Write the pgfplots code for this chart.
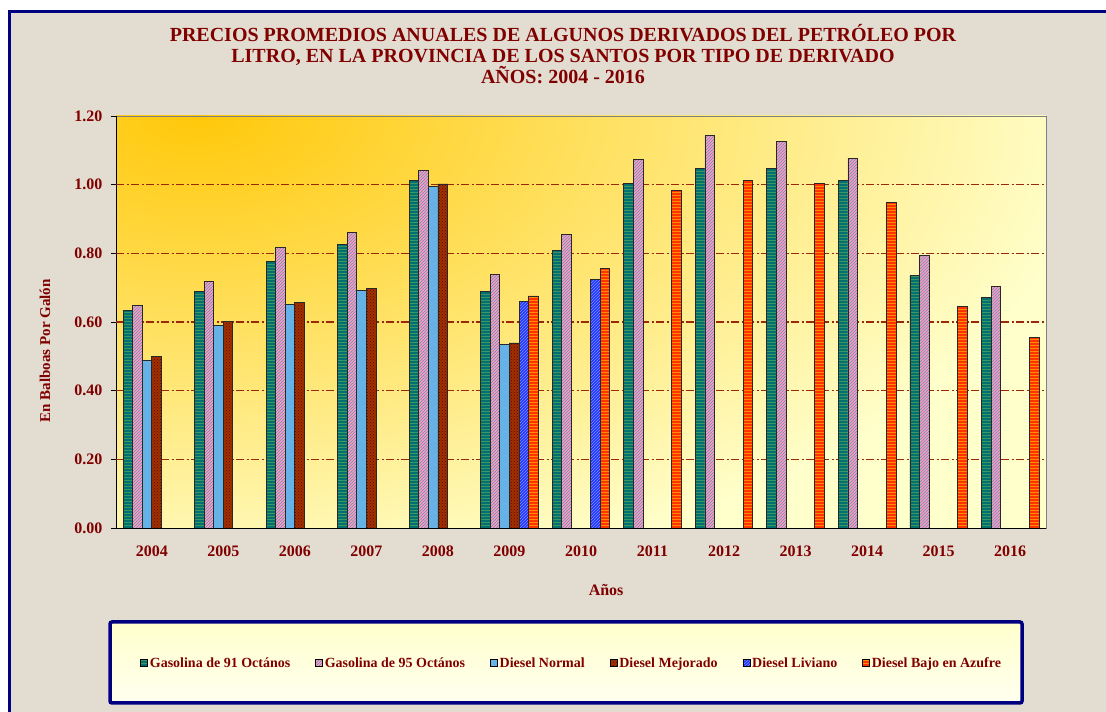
\documentclass[border=0pt]{standalone}
\usepackage{fontspec}
\setmainfont{Liberation Serif}
\usepackage{pgfplots}
\pgfplotsset{compat=1.18}
\usetikzlibrary{patterns}
\definecolor{dred}{RGB}{128,0,0}
\definecolor{navyb}{RGB}{0,0,128}
\definecolor{beige}{RGB}{227,221,209}
\definecolor{paleyel}{RGB}{255,255,204}
\definecolor{orangey}{RGB}{255,200,10}
\definecolor{gridred}{RGB}{155,40,10}
\definecolor{tealA}{RGB}{0,112,112}
\definecolor{tealB}{RGB}{60,150,95}
\definecolor{pinkA}{RGB}{255,153,204}
\definecolor{pinkB}{RGB}{100,150,160}
\definecolor{dnblue}{RGB}{102,178,230}
\definecolor{dmred}{RGB}{160,50,0}
\definecolor{dmdot}{RGB}{100,0,0}
\definecolor{dlblue}{RGB}{40,50,255}
\definecolor{dllight}{RGB}{110,150,255}
\definecolor{dbared}{RGB}{255,50,0}
\definecolor{dbaor}{RGB}{255,140,0}
\pgfplotsset{
  mylegend/.style={legend image code/.code={\draw[##1, line width=0.5pt, draw=black] (0pt,-3.5pt) rectangle (7pt,3.5pt);}},
  barbase/.style={draw={rgb,255:red,40;green,40;blue,40}, line width=0.8pt},
}
\begin{document}
\begin{tikzpicture}
\path[use as bounding box] (0,0) rectangle (1106pt,712pt);
\fill[white] (0,0) rectangle (1106pt,712pt);
\draw[line width=3pt, draw=navyb, fill=beige] (9.5pt,700.5pt) rectangle (1125pt,-15pt);
\draw[line width=3.5pt, draw=navyb, rounded corners=2pt, top color=paleyel, bottom color={rgb,255:red,255;green,255;blue,240}] (110pt,90pt) rectangle (1022pt,9pt);
\node[align=center, font=\fontsize{20}{21}\selectfont\bfseries, text=dred] at (563pt,658pt)
  {PRECIOS PROMEDIOS ANUALES DE ALGUNOS DERIVADOS DEL PETRÓLEO POR\\LITRO, EN LA PROVINCIA DE LOS SANTOS POR TIPO DE DERIVADO\\AÑOS: 2004 - 2016};
\begin{axis}[
  at={(116pt,184pt)}, anchor=south west,
  width=930pt, height=412pt, scale only axis,
  xmin=-0.5, xmax=12.5, ymin=0, ymax=1.2,
  ybar=0pt, bar width=0.134,
  axis x line*=bottom, axis y line*=left,
  axis line style={black, line width=0.8pt},
  axis background/.style={fill=paleyel, draw=gray, line width=0.8pt,
    path picture={\fill[inner color=orangey, outer color=paleyel] ([xshift=80pt]path picture bounding box.north west) ellipse [x radius=900pt, y radius=480pt];}},
  ytick={0,0.2,0.4,0.6,0.8,1.0,1.2},
  extra y ticks={0.2,0.4,0.6,0.8,1.0},
  extra y tick labels={},
  extra y tick style={grid=major, major tick length=0pt},
  grid style={gridred, line width=1.1pt, dash pattern=on 8pt off 2.5pt on 2pt off 2.5pt},
  xtick={0,1,2,3,4,5,6,7,8,9,10,11,12},
  xticklabels={2004,2005,2006,2007,2008,2009,2010,2011,2012,2013,2014,2015,2016},
  xtick style={draw=none},
  minor xtick={-0.5,0.5,1.5,2.5,3.5,4.5,5.5,6.5,7.5,8.5,9.5,10.5,11.5,12.5},
  minor tick style={black, line width=0.8pt},
  major tick style={black, line width=0.8pt},
  tick align=outside, major tick length=5pt, minor tick length=5pt,
  /pgf/number format/assume math mode=true,
  ticklabel style={font=\fontsize{16}{16}\selectfont\bfseries, text=dred},
  xticklabel style={yshift=-9pt},
  yticklabel style={xshift=-5pt, /pgf/number format/.cd, fixed, fixed zerofill, precision=2},
  ylabel={En Balboas Por Galón},
  every axis y label/.style={at={(rel axis cs:0,0.43)}, xshift=-71pt, rotate=90, anchor=center, font=\fontsize{15}{15}\selectfont\bfseries, text=dred},
  xlabel={Años},
  every axis x label/.style={at={(rel axis cs:0.527,0)}, yshift=-62pt, anchor=center, font=\fontsize{16}{16}\selectfont\bfseries, text=dred},
  legend columns=6,
  legend style={at={(0.49,-0.328)}, anchor=center, draw=none, fill=none,
    font=\fontsize{14}{14}\selectfont\bfseries, text=dred,
    /tikz/every even column/.append style={column sep=23pt}},
]
\addplot[barbase, fill=tealA, postaction={pattern=horizontal lines, pattern color=tealB}, mylegend] coordinates {
(0,0.633)(1,0.688)(2,0.776)(3,0.827)(4,1.013)(5,0.689)(6,0.808)(7,1.004)(8,1.046)(9,1.046)(10,1.011)(11,0.735)(12,0.672)};
\addlegendentry{Gasolina de 91 Octános}
\addplot[barbase, fill=pinkA, postaction={pattern=north east lines, pattern color=pinkB}, mylegend] coordinates {
(0,0.647)(1,0.719)(2,0.818)(3,0.860)(4,1.041)(5,0.738)(6,0.856)(7,1.073)(8,1.143)(9,1.126)(10,1.077)(11,0.794)(12,0.704)};
\addlegendentry{Gasolina de 95 Octános}
\addplot[barbase, fill=dnblue, mylegend] coordinates {
(0,0.489)(1,0.590)(2,0.651)(3,0.691)(4,0.995)(5,0.535)};
\addlegendentry{Diesel Normal}
\addplot[barbase, fill=dmred, postaction={pattern=crosshatch dots, pattern color=dmdot}, mylegend] coordinates {
(0,0.499)(1,0.601)(2,0.657)(3,0.699)(4,1.002)(5,0.539)};
\addlegendentry{Diesel Mejorado}
\addplot[barbase, fill=dlblue, postaction={pattern=north east lines, pattern color=dllight}, mylegend] coordinates {
(5,0.661)(6,0.724)};
\addlegendentry{Diesel Liviano}
\addplot[barbase, fill=dbared, postaction={pattern=horizontal lines, pattern color=dbaor}, mylegend] coordinates {
(5,0.676)(6,0.755)(7,0.982)(8,1.013)(9,1.004)(10,0.948)(11,0.644)(12,0.554)};
\addlegendentry{Diesel Bajo en Azufre}
\end{axis}
\end{tikzpicture}
\end{document}
